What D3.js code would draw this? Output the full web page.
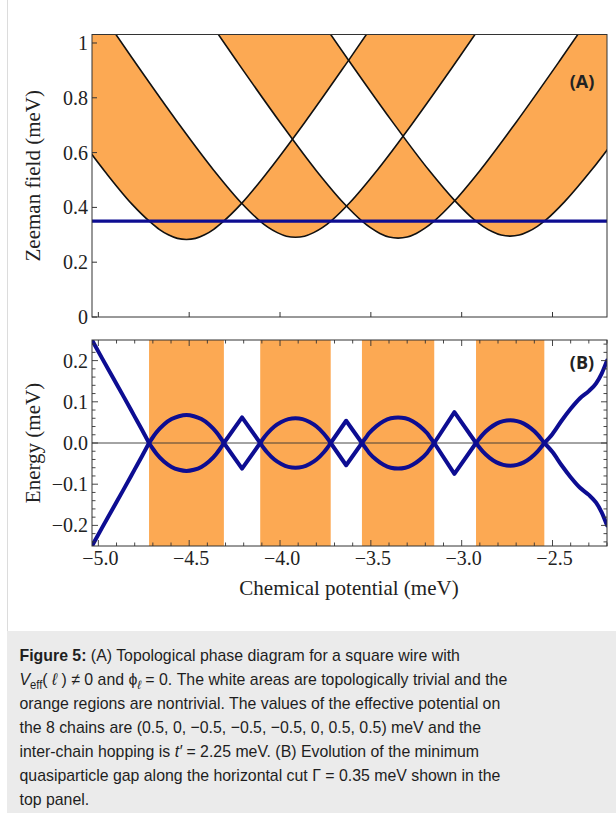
<!DOCTYPE html>
<html>
<head>
<meta charset="utf-8">
<script src="https://cdn.jsdelivr.net/npm/d3@7"></script>
<style>
  body { margin: 0; background: #fff; }
  svg { display: block; }
</style>
</head>
<body>
<svg id="fig" width="616" height="813"></svg>
<script>
// ---------- data ----------
// chemical potential ticks (meV)
const muTicks = [-5.0, -4.5, -4.0, -3.5, -3.0, -2.5];
const muTickLabels = ["\u22125.0", "\u22124.5", "\u22124.0", "\u22123.5", "\u22123.0", "\u22122.5"];
// Zeeman field ticks (meV)
const fieldTicks = [0, 0.2, 0.4, 0.6, 0.8, 1];
const fieldTickLabels = ["0", "0.2", "0.4", "0.6", "0.8", "1"];
// energy ticks (meV)
const energyTicks = [0.2, 0.1, 0, -0.1, -0.2];
const energyTickLabels = ["0.2", "0.1", "0.0", "\u22120.1", "\u22120.2"];

// horizontal cut through the phase diagram
const cutField = 0.35;

// phase boundaries [mu, Gamma] (one per subband)
const boundary1 = [[-5.715,1.233],[-5.415,0.944],[-5.165,0.709],[-4.965,0.532],[-4.815,0.412],[-4.715,0.347],[-4.665,0.320],[-4.615,0.300],[-4.565,0.287],[-4.515,0.283],[-4.465,0.287],[-4.415,0.300],[-4.365,0.320],[-4.315,0.347],[-4.215,0.412],[-4.065,0.532],[-3.865,0.709],[-3.615,0.944],[-3.315,1.233]];
const boundary2 = [[-5.115,1.235],[-4.815,0.946],[-4.565,0.712],[-4.365,0.536],[-4.215,0.418],[-4.115,0.353],[-4.065,0.327],[-4.015,0.308],[-3.965,0.295],[-3.915,0.291],[-3.865,0.295],[-3.815,0.308],[-3.765,0.327],[-3.715,0.353],[-3.615,0.418],[-3.465,0.536],[-3.265,0.712],[-3.015,0.946],[-2.715,1.235]];
const boundary3 = [[-4.550,1.234],[-4.250,0.945],[-4.000,0.711],[-3.800,0.534],[-3.650,0.416],[-3.550,0.351],[-3.500,0.325],[-3.450,0.305],[-3.400,0.292],[-3.350,0.288],[-3.300,0.292],[-3.250,0.305],[-3.200,0.325],[-3.150,0.351],[-3.050,0.416],[-2.900,0.534],[-2.700,0.711],[-2.450,0.945],[-2.150,1.234]];
const boundary4 = [[-3.933,1.236],[-3.633,0.947],[-3.383,0.714],[-3.183,0.538],[-3.033,0.421],[-2.933,0.356],[-2.883,0.331],[-2.833,0.312],[-2.783,0.299],[-2.733,0.295],[-2.683,0.299],[-2.633,0.312],[-2.583,0.331],[-2.533,0.356],[-2.433,0.421],[-2.283,0.538],[-2.083,0.714],[-1.833,0.947],[-1.533,1.236]];

// topological windows along the cut (meV)
const bandStart = [-4.721, -4.109, -3.549, -2.921];
const bandEnd   = [-4.309, -3.721, -3.151, -2.545];

// minimum quasiparticle gap |E| along the cut
const gapMu = [
  -5.04, -4.98, -4.92, -4.86, -4.80, -4.76, -4.721,
  -4.700, -4.680, -4.639, -4.597, -4.556, -4.515, -4.474, -4.433, -4.391, -4.350, -4.330, -4.309,
  -4.209, -4.109,
  -4.090, -4.070, -4.031, -3.993, -3.954, -3.915, -3.876, -3.837, -3.799, -3.760, -3.740, -3.721,
  -3.636, -3.549,
  -3.529, -3.509, -3.469, -3.430, -3.390, -3.350, -3.310, -3.270, -3.231, -3.191, -3.171, -3.151,
  -3.040, -2.921,
  -2.902, -2.883, -2.846, -2.808, -2.771, -2.733, -2.695, -2.658, -2.620, -2.583, -2.564, -2.545,
  -2.50, -2.45, -2.40, -2.35, -2.30, -2.26, -2.23, -2.20
];
const gapE = [
  0.254, 0.206, 0.159, 0.112, 0.064, 0.032, 0,
  0.014, 0.026, 0.045, 0.058, 0.065, 0.068, 0.065, 0.058, 0.045, 0.026, 0.014, 0,
  0.062, 0,
  0.012, 0.023, 0.040, 0.051, 0.058, 0.060, 0.058, 0.051, 0.040, 0.023, 0.012, 0,
  0.054, 0,
  0.012, 0.024, 0.041, 0.053, 0.060, 0.062, 0.060, 0.053, 0.041, 0.024, 0.012, 0,
  0.075, 0,
  0.011, 0.021, 0.036, 0.047, 0.053, 0.055, 0.053, 0.047, 0.036, 0.021, 0.011, 0,
  0.022, 0.054, 0.083, 0.108, 0.126, 0.145, 0.168, 0.200
];

// ---------- styles ----------
const ORANGE = "#fca953";
const NAVY = "#0d0d92";
const SERIF = "'Liberation Serif', 'Times New Roman', serif";
const TICK_FONT = 20;

const svg = d3.select("#fig");

// page furniture: left rule and caption box
svg.append("line").attr("x1", 7.5).attr("x2", 7.5).attr("y1", 0).attr("y2", 631)
  .attr("stroke", "#dcdcdc").attr("stroke-width", 1);
svg.append("rect").attr("x", 7).attr("y", 631).attr("width", 609).attr("height", 182)
  .attr("fill", "#ebebeb");

// ---------- scales ----------
const L = 92, R = 607;
const x = d3.scaleLinear().domain([-5.035, -2.2]).range([L, R]);
const yA = d3.scaleLinear().domain([0, 1.031]).range([317, 34.5]);
const yB = d3.scaleLinear().domain([-0.25, 0.25]).range([546, 340]);

const defs = svg.append("defs");
defs.append("clipPath").attr("id", "clipA").append("rect")
  .attr("x", L).attr("y", yA(1.031)).attr("width", R - L).attr("height", yA(0) - yA(1.031));
defs.append("clipPath").attr("id", "clipB").append("rect")
  .attr("x", L).attr("y", yB(0.25)).attr("width", R - L).attr("height", yB(-0.25) - yB(0.25));

// ---------- panel A: phase diagram ----------
const gA = svg.append("g");
const plotA = gA.append("g").attr("clip-path", "url(#clipA)");
const boundaries = [boundary1, boundary2, boundary3, boundary4];
const bLine = d3.line().x(d => x(d[0])).y(d => yA(d[1])).curve(d3.curveMonotoneX);

// nontrivial = odd number of subbands below the field -> even-odd fill of the regions above each boundary
const skyY = yA(1.031) - 200;
const regionPath = boundaries.map(b => {
  const first = b[0], last = b[b.length - 1];
  return bLine(b) + `L${x(last[0])},${skyY}L${x(first[0])},${skyY}Z`;
}).join("");
plotA.append("path").attr("d", regionPath).attr("fill", ORANGE).attr("fill-rule", "evenodd");

plotA.selectAll("path.boundary").data(boundaries).join("path")
  .attr("class", "boundary").attr("d", bLine)
  .attr("fill", "none").attr("stroke", "#111").attr("stroke-width", 1.6);

plotA.append("line")
  .attr("x1", L).attr("x2", R).attr("y1", yA(cutField)).attr("y2", yA(cutField))
  .attr("stroke", NAVY).attr("stroke-width", 3.2);

gA.append("rect").attr("x", L).attr("y", yA(1.031)).attr("width", R - L)
  .attr("height", yA(0) - yA(1.031)).attr("fill", "none").attr("stroke", "#333").attr("stroke-width", 1);

// ticks A
gA.selectAll("line.ytA").data(fieldTicks).join("line").attr("class", "ytA")
  .attr("x1", L).attr("x2", L + 5).attr("y1", d => yA(d)).attr("y2", d => yA(d))
  .attr("stroke", "#333").attr("stroke-width", 1);
gA.selectAll("line.xtA").data(muTicks).join("line").attr("class", "xtA")
  .attr("x1", d => x(d)).attr("x2", d => x(d)).attr("y1", yA(0)).attr("y2", yA(0) - 5)
  .attr("stroke", "#333").attr("stroke-width", 1);
gA.selectAll("text.ylA").data(fieldTicks).join("text").attr("class", "ylA")
  .attr("x", L - 4).attr("y", d => yA(d) + 7)
  .attr("text-anchor", "end").attr("font-family", SERIF).attr("font-size", TICK_FONT).attr("fill", "#222")
  .text((d, i) => fieldTickLabels[i]);
gA.append("text").attr("transform", `translate(40,${(yA(0) + yA(1.031)) / 2}) rotate(-90)`)
  .attr("text-anchor", "middle").attr("font-family", SERIF).attr("font-size", 21).attr("fill", "#222")
  .text("Zeeman field (meV)");
gA.append("text").attr("x", 582).attr("y", 88).attr("text-anchor", "middle")
  .attr("font-family", "'Open Sans', sans-serif").attr("font-weight", "bold").attr("font-size", 18)
  .attr("fill", "#222").text("(A)");

// ---------- panel B: quasiparticle gap along the cut ----------
const gB = svg.append("g");
const plotB = gB.append("g").attr("clip-path", "url(#clipB)");
plotB.selectAll("rect.band").data(bandStart).join("rect").attr("class", "band")
  .attr("x", d => x(d)).attr("width", (d, i) => x(bandEnd[i]) - x(d))
  .attr("y", yB(0.25)).attr("height", yB(-0.25) - yB(0.25)).attr("fill", ORANGE);
plotB.append("line").attr("x1", L).attr("x2", R).attr("y1", yB(0)).attr("y2", yB(0))
  .attr("stroke", "#333").attr("stroke-width", 0.9);

// split the gap curve at its zeros; kinks stay sharp there
const gapPts = gapMu.map((m, i) => [m, gapE[i]]);
const segments = [];
let cur = [gapPts[0]];
for (let i = 1; i < gapPts.length; i++) {
  cur.push(gapPts[i]);
  if (gapPts[i][1] === 0 && i < gapPts.length - 1) { segments.push(cur); cur = [gapPts[i]]; }
}
segments.push(cur);
[1, -1].forEach(sign => {
  segments.forEach(seg => {
    const gen = d3.line().x(d => x(d[0])).y(d => yB(sign * d[1]))
      .curve(seg.length > 3 ? d3.curveMonotoneX : d3.curveLinear);
    plotB.append("path").attr("d", gen(seg)).attr("fill", "none")
      .attr("stroke", NAVY).attr("stroke-width", 4).attr("stroke-linejoin", "round").attr("stroke-linecap", "round");
  });
});

gB.append("rect").attr("x", L).attr("y", yB(0.25)).attr("width", R - L)
  .attr("height", yB(-0.25) - yB(0.25)).attr("fill", "none").attr("stroke", "#333").attr("stroke-width", 1);

// ticks B: majors and minors on all four sides
const xMinor = d3.range(-5.0, -2.19, 0.1).filter(v => Math.abs(v * 2 - Math.round(v * 2)) > 1e-6);
const yMinor = d3.range(-0.24, 0.2401, 0.02).filter(v => Math.abs(v * 10 - Math.round(v * 10)) > 1e-6);
function drawTicks(values, isX, len) {
  values.forEach(v => {
    if (isX) {
      gB.append("line").attr("x1", x(v)).attr("x2", x(v)).attr("y1", yB(-0.25)).attr("y2", yB(-0.25) - len)
        .attr("stroke", "#333").attr("stroke-width", 0.9);
      gB.append("line").attr("x1", x(v)).attr("x2", x(v)).attr("y1", yB(0.25)).attr("y2", yB(0.25) + len)
        .attr("stroke", "#333").attr("stroke-width", 0.9);
    } else {
      gB.append("line").attr("x1", L).attr("x2", L + len).attr("y1", yB(v)).attr("y2", yB(v))
        .attr("stroke", "#333").attr("stroke-width", 0.9);
      gB.append("line").attr("x1", R).attr("x2", R - len).attr("y1", yB(v)).attr("y2", yB(v))
        .attr("stroke", "#333").attr("stroke-width", 0.9);
    }
  });
}
drawTicks(muTicks, true, 6);
drawTicks(xMinor, true, 3.5);
drawTicks(energyTicks, false, 6);
drawTicks(yMinor, false, 3.5);

gB.selectAll("text.ylB").data(energyTicks).join("text").attr("class", "ylB")
  .attr("x", L - 4).attr("y", d => yB(d) + 7)
  .attr("text-anchor", "end").attr("font-family", SERIF).attr("font-size", TICK_FONT).attr("fill", "#222")
  .text((d, i) => energyTickLabels[i]);
gB.selectAll("text.xlB").data(muTicks).join("text").attr("class", "xlB")
  .attr("x", d => x(d) + 2).attr("y", 565)
  .attr("text-anchor", "middle").attr("font-family", SERIF).attr("font-size", TICK_FONT).attr("fill", "#222")
  .text((d, i) => muTickLabels[i]);
gB.append("text").attr("transform", `translate(40,${yB(0)}) rotate(-90)`)
  .attr("text-anchor", "middle").attr("font-family", SERIF).attr("font-size", 21).attr("fill", "#222")
  .text("Energy (meV)");
gB.append("text").attr("x", 349).attr("y", 595).attr("text-anchor", "middle")
  .attr("font-family", SERIF).attr("font-size", 21).attr("fill", "#222")
  .text("Chemical potential (meV)");
gB.append("text").attr("x", 582).attr("y", 369).attr("text-anchor", "middle")
  .attr("font-family", "'Open Sans', sans-serif").attr("font-weight", "bold").attr("font-size", 18)
  .attr("fill", "#222").text("(B)");

// ---------- caption ----------
// runs: [text, style] where style is "", "b", "i", "sub", "subi"
const captionLines = [
  [["Figure 5:", "b"], [" (A) Topological phase diagram for a square wire with", ""]],
  [["V", "i"], ["eff", "sub"], ["( ", ""], ["\u2113", "i"], [" ) \u2260 0 and \u03d5", ""], ["\u2113", "subi"],
   [" = 0. The white areas are topologically trivial and the", ""]],
  [["orange regions are nontrivial. The values of the effective potential on", ""]],
  [["the 8 chains are (0.5, 0, \u22120.5, \u22120.5, \u22120.5, 0, 0.5, 0.5) meV and the", ""]],
  [["inter-chain hopping is ", ""], ["t\u2032", "i"], [" = 2.25 meV. (B) Evolution of the minimum", ""]],
  [["quasiparticle gap along the horizontal cut \u0393 = 0.35 meV shown in the", ""]],
  [["top panel.", ""]]
];
// the caption face is set slightly condensed
const capScale = 0.933;
const cap = svg.append("g").attr("transform", `scale(${capScale},1)`)
  .attr("font-family", "'Liberation Sans', Arial, sans-serif")
  .attr("font-size", 17).attr("fill", "#1e1e1e");
captionLines.forEach((runs, li) => {
  const t = cap.append("text").attr("x", 19.5 / capScale).attr("y", 661 + li * 24);
  let shift = 0;
  runs.forEach(([txt, st]) => {
    const sp = t.append("tspan").text(txt);
    const isSub = st === "sub" || st === "subi";
    const target = isSub ? 4 : 0;
    if (target !== shift) { sp.attr("dy", target - shift); shift = target; }
    if (st === "b") sp.attr("font-weight", "bold");
    if (st === "i" || st === "subi") sp.attr("font-style", "italic");
    if (isSub) sp.attr("font-size", 12);
  });
});
</script>
</body>
</html>
